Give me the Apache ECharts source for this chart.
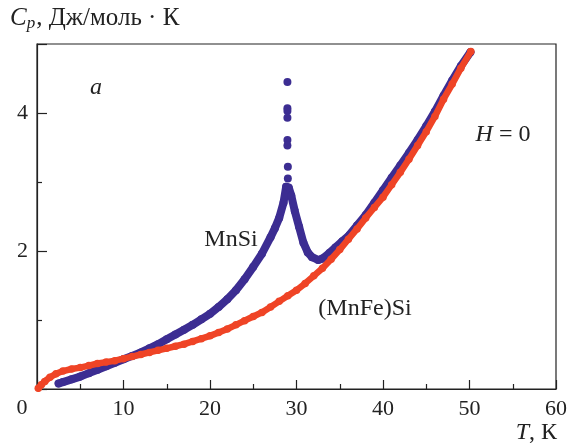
<!DOCTYPE html>
<html>
<head>
<meta charset="utf-8">
<script src="https://cdn.jsdelivr.net/npm/echarts/dist/echarts.min.js"></script>
<style>html,body{margin:0;padding:0;background:#fff}#c{width:582px;height:448px}</style>
</head>
<body>
<div id="c"></div>
<script>
// MnSi (blue)
const mnsiT  = [2.5,3.0,4.0,5.0,6.0,7.0,8.0,9.0,10.0,11.0,12.0,13.0,14.0,15.0,16.0,17.0,18.0,19.0,20.0,21.0,22.0,23.0,24.0,25.0,26.0,27.0,27.5,28.0,28.5,28.8,29.1,29.4,29.8,30.3,30.8,31.3,31.8,32.5,33.0,33.8,34.5,35.3,36.1,37.0,38.0,39.0,40.0,41.0,42.0,43.0,44.0,45.0,46.0,47.0,48.0,49.0,50.1];
const mnsiCp = [0.08,0.10,0.14,0.18,0.23,0.28,0.33,0.38,0.43,0.48,0.53,0.59,0.65,0.72,0.79,0.86,0.93,1.01,1.09,1.19,1.30,1.43,1.59,1.77,1.96,2.20,2.33,2.48,2.70,2.93,2.92,2.80,2.58,2.35,2.12,1.98,1.91,1.87,1.89,1.97,2.05,2.14,2.23,2.37,2.52,2.70,2.88,3.06,3.24,3.42,3.61,3.81,4.02,4.25,4.47,4.68,4.88];
// MnSi spike points at the transition
const spikeT  = [28.95,28.95,28.95,28.95,28.95,28.95,29.0,29.0];
const spikeCp = [4.45,4.07,4.03,3.93,3.61,3.53,3.22,3.05];
// (MnFe)Si (red)
const mnfeT  = [0.15,0.5,0.9,1.5,2.2,3.0,4.0,5.0,6.0,7.0,8.0,9.0,10.0,11.0,12.0,13.0,14.0,15.0,16.0,17.0,18.0,19.0,20.0,21.0,22.0,23.0,24.0,25.0,26.0,27.0,28.0,29.0,30.0,31.0,32.0,33.0,34.0,35.0,36.0,37.0,38.0,39.0,40.0,41.0,42.0,43.0,44.0,45.0,46.0,47.0,48.0,49.0,50.15];
const mnfeCp = [0.01,0.06,0.11,0.17,0.22,0.26,0.29,0.31,0.34,0.37,0.39,0.41,0.44,0.47,0.50,0.53,0.56,0.59,0.62,0.65,0.69,0.73,0.77,0.82,0.87,0.93,0.99,1.05,1.11,1.19,1.27,1.35,1.43,1.53,1.64,1.75,1.88,2.02,2.17,2.32,2.48,2.63,2.78,2.96,3.14,3.33,3.53,3.73,3.95,4.20,4.42,4.65,4.89];
// axes
const xTicks = [0,10,20,30,40,50,60];
const yTicks = [0,2,4];

const zip = (a,b) => a.map((v,i) => [v,b[i]]);
const BLUE = '#3c2d92', RED = '#ef4426', INK = '#222';
const FONT = '"Liberation Serif", "DejaVu Serif", serif';

const chart = echarts.init(document.getElementById('c'), null, {renderer:'canvas'});
chart.setOption({
  animation:false,
  backgroundColor:'#fff',
  grid:{left:37,right:26,top:44,bottom:59,show:true,borderColor:INK,borderWidth:1.2,backgroundColor:'transparent'},
  xAxis:{type:'value',min:xTicks[0],max:xTicks[xTicks.length-1],interval:10,
    axisLine:{lineStyle:{color:INK,width:1.2}},
    axisTick:{inside:true,length:9,lineStyle:{color:INK,width:1.2}},
    minorTick:{show:true,splitNumber:2,length:5,lineStyle:{color:INK,width:1.2}},
    splitLine:{show:false},
    axisLabel:{color:INK,fontFamily:FONT,fontSize:22,margin:9,formatter:v=>v===0?'':String(v)}},
  yAxis:{type:'value',min:yTicks[0],max:5,interval:2,
    axisLine:{lineStyle:{color:INK,width:1.2}},
    axisTick:{inside:true,length:10,lineStyle:{color:INK,width:1.2}},
    minorTick:{show:true,splitNumber:2,length:5,lineStyle:{color:INK,width:1.2}},
    splitLine:{show:false},
    axisLabel:{color:INK,fontFamily:FONT,fontSize:22,margin:9,formatter:v=>yTicks.includes(v)&&v!==0?String(v):''}},
  series:[
    {type:'line',data:zip(mnsiT,mnsiCp),symbol:'circle',symbolSize:8,itemStyle:{color:BLUE},lineStyle:{color:BLUE,width:8,cap:'round',join:'round'},z:2},
    {type:'scatter',data:zip(spikeT,spikeCp),symbol:'circle',symbolSize:8,itemStyle:{color:BLUE,opacity:1},z:2},
    {type:'line',data:zip(mnfeT,mnfeCp),symbol:'circle',symbolSize:7.5,itemStyle:{color:RED},lineStyle:{color:RED,width:6.5,cap:'round',join:'round'},z:3}
  ],
  graphic:[
    {type:'text',left:10,top:6,style:{rich:{i:{fontFamily:FONT,fontStyle:'italic',fontSize:25,fill:INK},s:{fontFamily:FONT,fontStyle:'italic',fontSize:17,fill:INK,padding:[11,1,0,0]},n:{fontFamily:FONT,fontSize:25,fill:INK}},text:'{i|C}{s|p}{n|, Дж/моль · К}'}},
    {type:'text',x:22,y:408,style:{text:'0',fontFamily:FONT,fontSize:22,fill:INK,align:'center',verticalAlign:'middle'}},
    {type:'text',x:557,y:433,style:{rich:{i:{fontFamily:FONT,fontStyle:'italic',fontSize:24,fill:INK},n:{fontFamily:FONT,fontSize:24,fill:INK}},text:'{i|T}{n|, К}',align:'right',verticalAlign:'middle'}},
    {type:'text',x:96,y:88,style:{text:'a',fontFamily:FONT,fontStyle:'italic',fontSize:24,fill:INK,align:'center',verticalAlign:'middle'}},
    {type:'text',x:503,y:135,style:{rich:{i:{fontFamily:FONT,fontStyle:'italic',fontSize:24,fill:INK},n:{fontFamily:FONT,fontSize:24,fill:INK}},text:'{i|H}{n| = 0}',align:'center',verticalAlign:'middle'}},
    {type:'text',x:231,y:240,style:{text:'MnSi',fontFamily:FONT,fontSize:24,fill:INK,align:'center',verticalAlign:'middle'}},
    {type:'text',x:365,y:309,style:{text:'(MnFe)Si',fontFamily:FONT,fontSize:24,fill:INK,align:'center',verticalAlign:'middle'}}
  ]
});
</script>
</body>
</html>
